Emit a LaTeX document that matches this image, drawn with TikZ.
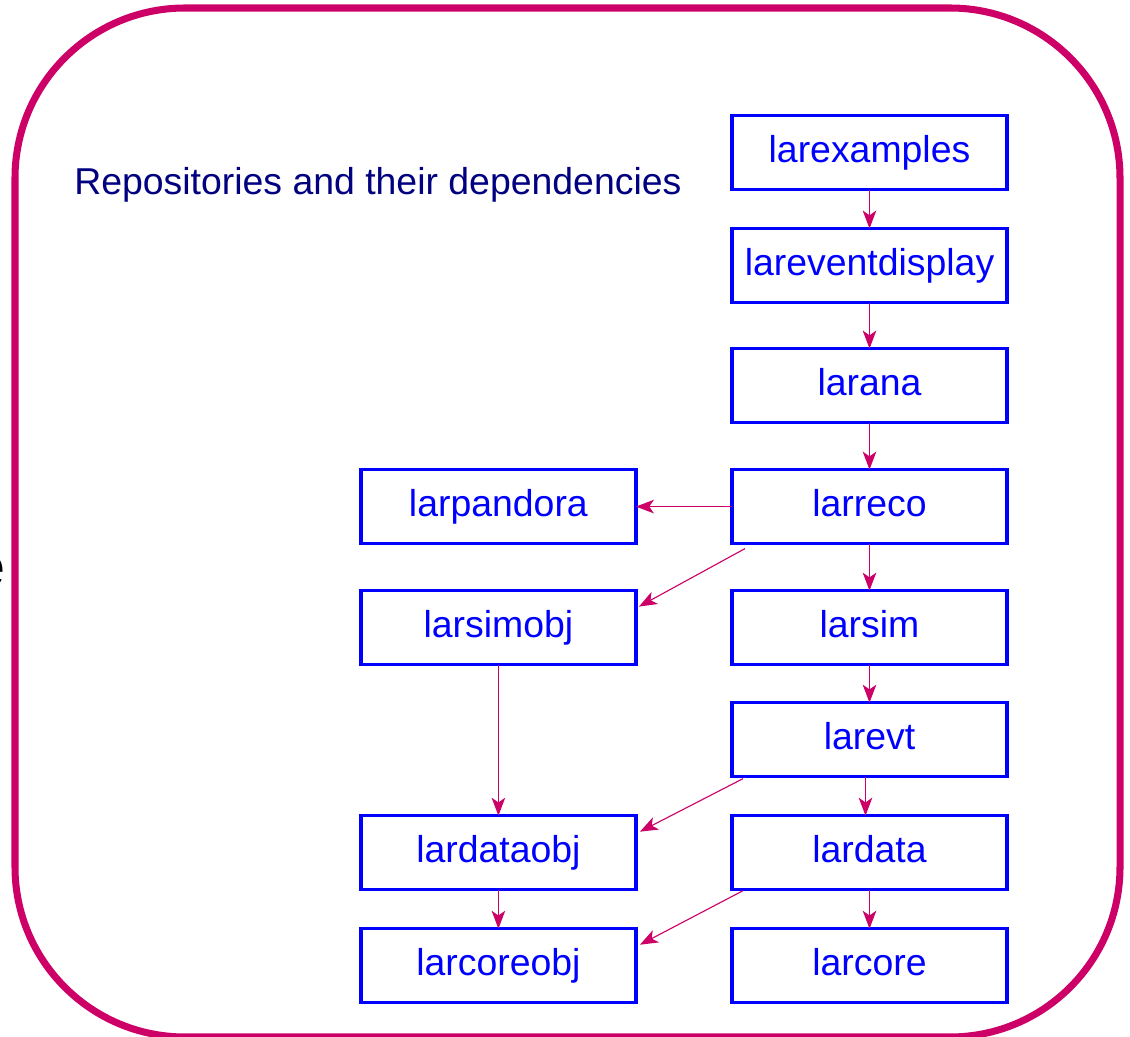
\documentclass[tikz,border=0pt]{standalone}
\usepackage{fontspec}
\setmainfont{Liberation Sans}
\usetikzlibrary{positioning,arrows.meta}
\definecolor{repoblue}{RGB}{0,0,255}
\definecolor{framemag}{RGB}{204,0,102}
\definecolor{titlenavy}{RGB}{0,0,128}

\begin{document}
\begin{tikzpicture}[
        x=0.025cm, y=-0.025cm, % one unit is one pixel of the page
        repo/.style={draw=repoblue, line width=2.4pt, text=repoblue, minimum width=6.875cm, minimum height=1.85cm, inner sep=0pt, outer sep=0pt, text height=0.68cm, text depth=0.2cm, font=\fontsize{26.6}{30}\selectfont},
        dep/.style={draw=framemag, line width=0.8pt, -{Stealth[length=0.45cm, width=0.34cm, inset=0.12cm]}},
        frame/.style={draw=framemag, line width=5pt, rounded corners=4.25cm}
    ]
    \useasboundingbox (0,0) rectangle (1130,1037);

    % Frame and title
    \draw[frame] (15,8) rectangle (1120,1037);
    \node[text=titlenavy, anchor=west, inner sep=0pt, font=\fontsize{26.6}{30}\selectfont] (title) at (74,185) {Repositories and their dependencies};
    \node[anchor=base east, inner sep=0pt, font=\fontsize{41}{48}\selectfont] (cut) at (6,586) {e};

    % Nodes
    \node[repo] (larexamples) at (869.5,152.5) {larexamples};
    \node[repo, below=0.975cm of larexamples] (lareventdisplay) {lareventdisplay};
    \node[repo, below=1.15cm of lareventdisplay] (larana) {larana};
    \node[repo, below=1.175cm of larana] (larreco) {larreco};
    \node[repo, below=1.175cm of larreco] (larsim) {larsim};
    \node[repo, below=0.95cm of larsim] (larevt) {larevt};
    \node[repo, below=0.975cm of larevt] (lardata) {lardata};
    \node[repo, below=0.975cm of lardata] (larcore) {larcore};

    \node[repo, left=2.4cm of larreco] (larpandora) {larpandora};
    \node[repo, left=2.4cm of larsim] (larsimobj) {larsimobj};
    \node[repo, left=2.4cm of lardata] (lardataobj) {lardataobj};
    \node[repo, left=2.4cm of larcore] (larcoreobj) {larcoreobj};

    % Edges
    \draw[dep] (larexamples) -- (lareventdisplay);
    \draw[dep] (lareventdisplay) -- (larana);
    \draw[dep] (larana) -- (larreco);
    \draw[dep] (larreco) -- (larsim);
    \draw[dep] (larsim) -- (larevt);
    \draw[dep] ([xshift=-0.1cm]larevt.south) -- ([xshift=-0.1cm]lardata.north);
    \draw[dep] (lardata) -- (larcore);

    \draw[dep] (larreco) -- (larpandora);
    \draw[dep] ([shift={(13,5)}]larreco.south west) -- ([shift={(3,16)}]larsimobj.north east);
    \draw[dep] (larsimobj) -- (lardataobj);
    \draw[dep] ([shift={(11,2)}]larevt.south west) -- ([shift={(4,16)}]lardataobj.north east);
    \draw[dep] (lardataobj) -- (larcoreobj);
    \draw[dep] ([shift={(11,1)}]lardata.south west) -- ([shift={(4,16)}]larcoreobj.north east);

\end{tikzpicture}
\end{document}
